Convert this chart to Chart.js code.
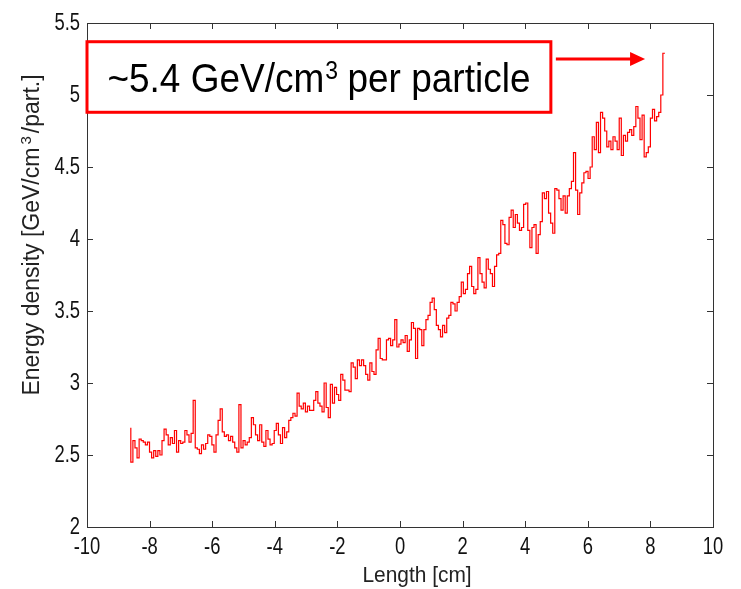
<!DOCTYPE html>
<html>
<head>
<meta charset="utf-8">
<script src="https://cdn.jsdelivr.net/npm/chart.js@4/dist/chart.umd.min.js"></script>
<style>
	html, body { margin: 0; padding: 0; background: #fff; }
	#wrap { width: 741px; height: 589px; }
</style>
</head>
<body>
<div id="wrap"><canvas id="chart" width="741" height="589"></canvas></div>
<script>

var xStart = -8.6;
var binWidth = 0.0664;

var xTicks = [-10, -8, -6, -4, -2, 0, 2, 4, 6, 8, 10];
var yTicks = [2, 2.5, 3, 3.5, 4, 4.5, 5, 5.5];

// energy density per bin left to right
var energyLeft = [
	2.69, 2.45, 2.60, 2.55, 2.48, 2.61, 2.60, 2.59, 2.57, 2.59,
	2.52, 2.48, 2.53, 2.49, 2.53, 2.50, 2.60, 2.68, 2.64, 2.57,
	2.62, 2.58, 2.67, 2.52, 2.60, 2.58, 2.59, 2.67, 2.64, 2.59,
	2.65, 2.88, 2.55, 2.54, 2.51, 2.57, 2.54, 2.58, 2.64, 2.63,
	2.57, 2.52, 2.64, 2.74,
	2.82, 2.66, 2.63, 2.64, 2.60, 2.63, 2.59, 2.55, 2.52, 2.85,
	2.55, 2.60, 2.57, 2.59, 2.62, 2.76, 2.71, 2.64, 2.60, 2.71,
	2.59, 2.56, 2.67, 2.61, 2.57, 2.58, 2.67, 2.72, 2.64, 2.58,
	2.69, 2.62, 2.66, 2.74, 2.76, 2.79, 2.77, 2.93, 2.84, 2.82,
	2.86, 2.80, 2.84, 2.81
];
var energyMiddle = [
	2.81, 2.88, 2.94, 2.86, 2.84, 2.80, 3.00, 2.83, 2.76, 2.99,
	2.86, 2.97, 2.92, 2.88, 3.06, 3.02, 2.95, 2.95, 2.94, 3.14,
	3.11, 3.03, 3.16, 3.12, 3.16, 3.12, 3.06, 3.02, 3.14, 3.08,
	3.06, 3.23, 3.31, 3.17, 3.16, 3.16, 3.30, 3.31, 3.26, 3.30, 3.44,
	3.25, 3.27, 3.30, 3.28, 3.33, 3.22, 3.30, 3.42, 3.38, 3.17,
	3.38, 3.37, 3.26, 3.37, 3.44, 3.47, 3.56, 3.59, 3.51, 3.40,
	3.37, 3.32, 3.40, 3.35, 3.45, 3.47, 3.56, 3.55, 3.50, 3.56,
	3.60, 3.70, 3.62, 3.65, 3.76, 3.81, 3.67, 3.62, 3.65, 3.87,
	3.76, 3.70, 3.66, 3.86
];
var energyRight = [
	3.79, 3.76, 3.67, 3.81, 3.89, 3.90, 4.13, 4.10, 3.97, 3.96,
	4.15, 4.20, 4.08, 4.17, 4.11, 4.06, 4.08, 4.24, 4.25, 4.06,
	3.94, 4.08, 4.10, 3.90, 4.03, 4.12, 4.32, 4.28, 4.33, 4.18,
	4.11, 4.04, 4.35, 4.34, 4.28, 4.20, 4.30, 4.18, 4.30, 4.35,
	4.40, 4.60, 4.34, 4.17,
	4.32, 4.39, 4.46, 4.47, 4.42, 4.50, 4.71, 4.62, 4.81, 4.60,
	4.88, 4.84, 4.75, 4.64, 4.68, 4.62, 4.71, 4.68, 4.62, 4.84,
	4.58, 4.72, 4.68, 4.74, 4.76, 4.72, 4.78, 4.92, 4.84, 4.69,
	4.86, 4.57, 4.60, 4.64, 4.84, 4.90, 4.82, 4.85, 4.88, 5.00,
	5.29
];

var xTitle = 'Length [cm]';
var yTitleMain = 'Energy density [GeV/cm';
var yTitleSup = '3';
var yTitleTail = '/part.]';
var noteMain = '~5.4 GeV/cm';
var noteSup = '3';
var noteTail = ' per particle';

var uiFont = '"Liberation Sans", Arial, sans-serif';
var red = '#ff0000';

// annotation box and arrow, in data units
var noteBox = { x0: -10, x1: 4.82, y0: 4.88, y1: 5.37 };
var noteArrow = { x0: 4.98, x1: 7.83, y: 5.25 };

var energy = energyLeft.concat(energyMiddle, energyRight);
var points = [];
for (var i = 0; i < energy.length; i++) {
	points.push({ x: xStart + i * binWidth, y: energy[i] });
}

// narrow text, like the condensed face of the original figure
function narrowText(ctx, text, x, y, squeeze) {
	ctx.save();
	ctx.translate(x, y);
	ctx.scale(squeeze, 1);
	ctx.fillText(text, 0, 0);
	ctx.restore();
}

var frame = {
	id: 'frame',
	afterDraw: function(chart) {
		var ctx = chart.ctx;
		var a = chart.chartArea;
		var xs = chart.scales.x;
		var ys = chart.scales.y;
		var tl = 6;

		ctx.save();
		ctx.strokeStyle = '#333';
		ctx.lineWidth = 1;
		ctx.strokeRect(Math.round(a.left) + 0.5, Math.round(a.top) + 0.5, Math.round(a.right - a.left), Math.round(a.bottom - a.top));

		ctx.beginPath();
		xTicks.forEach(function(v) {
			var px = Math.round(xs.getPixelForValue(v)) + 0.5;
			ctx.moveTo(px, a.bottom); ctx.lineTo(px, a.bottom - tl);
			ctx.moveTo(px, a.top); ctx.lineTo(px, a.top + tl);
		});
		yTicks.forEach(function(v) {
			var py = Math.round(ys.getPixelForValue(v)) + 0.5;
			ctx.moveTo(a.left, py); ctx.lineTo(a.left + tl, py);
			ctx.moveTo(a.right, py); ctx.lineTo(a.right - tl, py);
		});
		ctx.stroke();

		// tick labels
		ctx.fillStyle = '#111';
		ctx.font = '23px ' + uiFont;
		ctx.textBaseline = 'middle';
		ctx.textAlign = 'center';
		xTicks.forEach(function(v) {
			narrowText(ctx, String(v), xs.getPixelForValue(v), a.bottom + 21, 0.8);
		});
		ctx.textAlign = 'right';
		yTicks.forEach(function(v) {
			narrowText(ctx, String(v), a.left - 7, ys.getPixelForValue(v) + 1, 0.8);
		});

		// axis titles
		ctx.fillStyle = '#222';
		ctx.font = '22px ' + uiFont;
		ctx.textAlign = 'center';
		narrowText(ctx, xTitle, (a.left + a.right) / 2 + 17, 576, 0.95);

		ctx.save();
		ctx.translate(33, (a.top + a.bottom) / 2 - 40);
		ctx.rotate(-Math.PI / 2);
		ctx.textAlign = 'left';
		ctx.font = '23px ' + uiFont;
		var t1 = ctx.measureText(yTitleMain).width;
		var t3 = ctx.measureText(yTitleTail).width;
		ctx.font = '15px ' + uiFont;
		var t2 = ctx.measureText(yTitleSup).width + 6;
		var sx = -(t1 + t2 + t3) / 2;
		ctx.font = '23px ' + uiFont;
		ctx.fillText(yTitleMain, sx, 0);
		ctx.font = '15px ' + uiFont;
		ctx.fillText(yTitleSup, sx + t1 + 3, -6);
		ctx.font = '23px ' + uiFont;
		ctx.fillText(yTitleTail, sx + t1 + t2, 0);
		ctx.restore();

		// annotation
		var bx0 = xs.getPixelForValue(noteBox.x0);
		var bx1 = xs.getPixelForValue(noteBox.x1);
		var by0 = ys.getPixelForValue(noteBox.y1);
		var by1 = ys.getPixelForValue(noteBox.y0);
		ctx.fillStyle = '#fff';
		ctx.fillRect(bx0, by0, bx1 - bx0, by1 - by0);
		ctx.strokeStyle = red;
		ctx.lineWidth = 3;
		ctx.strokeRect(bx0, by0, bx1 - bx0, by1 - by0);

		ctx.fillStyle = '#000';
		ctx.textAlign = 'left';
		ctx.textBaseline = 'alphabetic';
		ctx.font = '37px ' + uiFont;
		var w1 = ctx.measureText(noteMain).width;
		var w3 = ctx.measureText(noteTail).width;
		ctx.font = '23px ' + uiFont;
		var w2 = ctx.measureText(noteSup).width;
		var tx = (bx0 + bx1) / 2 - (w1 + w2 + w3) / 2;
		var base = (by0 + by1) / 2 + 15;
		ctx.save();
		ctx.translate(tx, base);
		ctx.scale(1, 1.1);
		ctx.font = '37px ' + uiFont;
		ctx.fillText(noteMain, 0, 0);
		ctx.font = '23px ' + uiFont;
		ctx.fillText(noteSup, w1 + 1, -12);
		ctx.font = '37px ' + uiFont;
		ctx.fillText(noteTail, w1 + w2, 0);
		ctx.restore();

		var ax0 = xs.getPixelForValue(noteArrow.x0);
		var ax1 = xs.getPixelForValue(noteArrow.x1);
		var ay = ys.getPixelForValue(noteArrow.y);
		ctx.beginPath();
		ctx.moveTo(ax0, ay);
		ctx.lineTo(ax1 - 12, ay);
		ctx.stroke();
		ctx.fillStyle = red;
		ctx.beginPath();
		ctx.moveTo(ax1, ay);
		ctx.lineTo(ax1 - 15, ay - 7);
		ctx.lineTo(ax1 - 15, ay + 7);
		ctx.closePath();
		ctx.fill();
		ctx.restore();
	}
};

var ctx = document.getElementById('chart').getContext('2d');
var myChart = new Chart(ctx, {
	type: 'line',
	data: {
		datasets: [{
			data: points,
			borderColor: red,
			borderWidth: 1.2,
			pointRadius: 0,
			stepped: 'after',
			fill: false
		}]
	},
	options: {
		responsive: false,
		animation: false,
		layout: { padding: { top: 23, right: 28, left: 0, bottom: 0 } },
		plugins: { legend: { display: false }, tooltip: { enabled: false } },
		scales: {
			x: {
				type: 'linear',
				min: -10,
				max: 10,
				afterBuildTicks: function(scale) {
					scale.ticks = xTicks.map(function(v) { return { value: v }; });
				},
				afterFit: function(scale) { scale.height = 62; },
				grid: { display: false, drawTicks: false },
				border: { display: false },
				ticks: { display: false }
			},
			y: {
				type: 'linear',
				min: 2,
				max: 5.5,
				afterBuildTicks: function(scale) {
					scale.ticks = yTicks.map(function(v) { return { value: v }; });
				},
				afterFit: function(scale) { scale.width = 87; },
				grid: { display: false, drawTicks: false },
				border: { display: false },
				ticks: { display: false }
			}
		}
	},
	plugins: [frame]
});
</script>
</body>
</html>
